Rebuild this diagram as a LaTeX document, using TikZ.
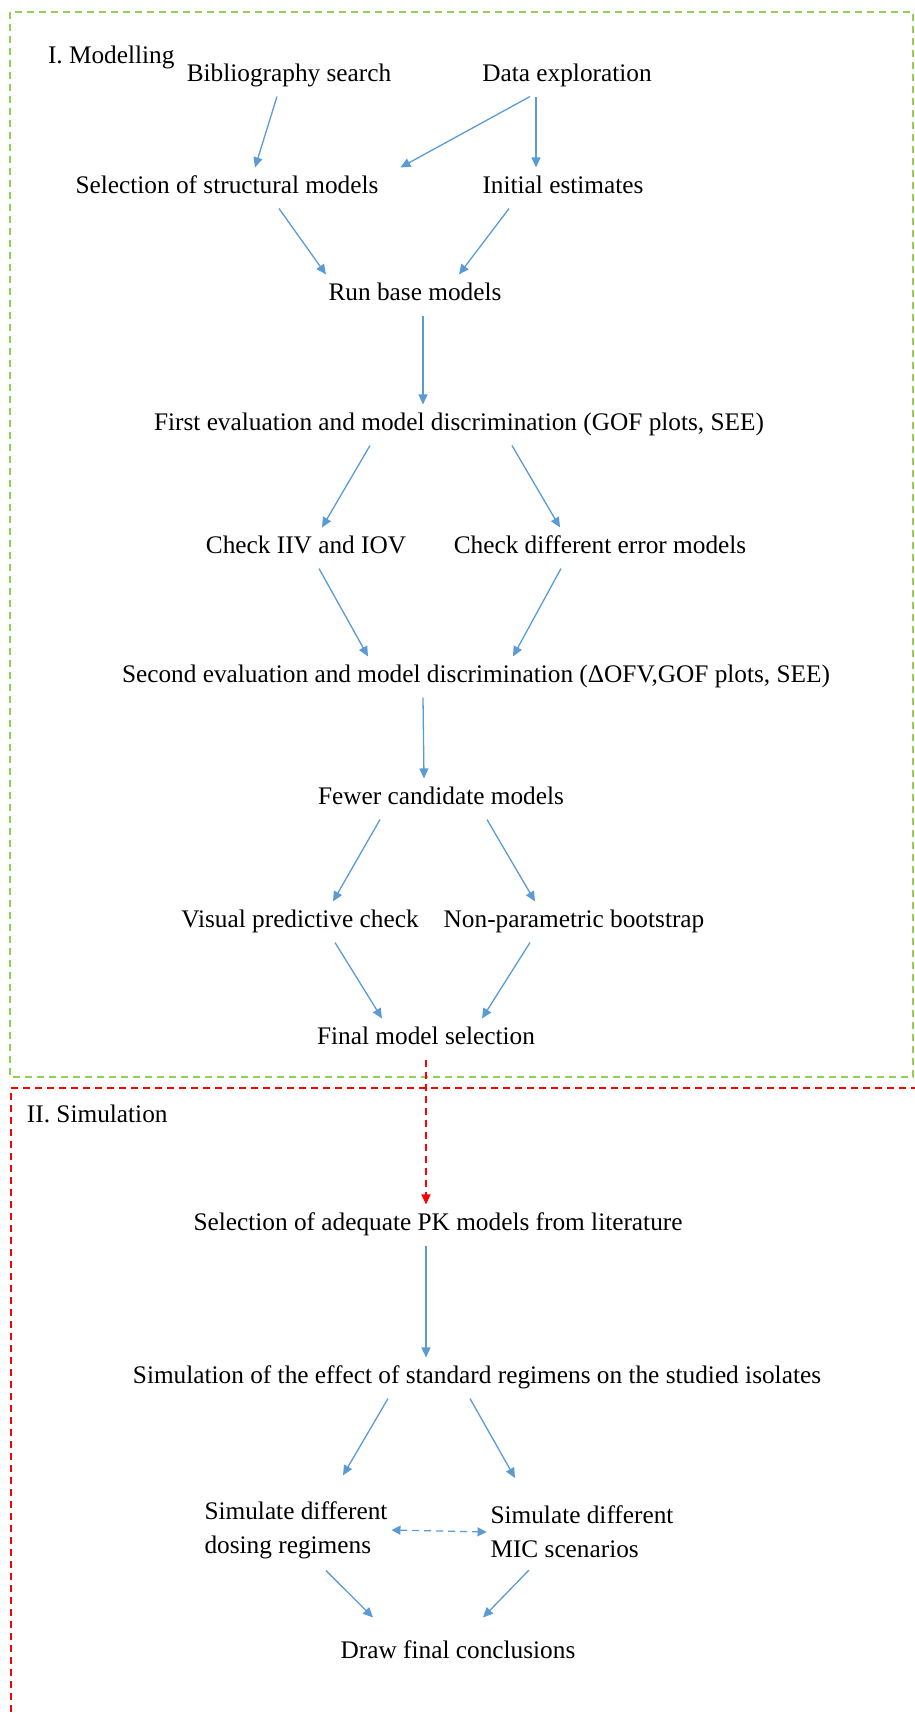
\documentclass[tikz,border=0pt]{standalone}
\usepackage{fontspec}
\setmainfont{Liberation Serif}
\usetikzlibrary{arrows.meta}
\definecolor{flowblue}{RGB}{91,155,213}
\definecolor{modgreen}{RGB}{146,208,80}
\definecolor{simred}{RGB}{255,0,0}

\begin{document}
\begin{tikzpicture}[x=1pt,y=-1pt,
    txt/.style={inner sep=0pt, outer xsep=4pt, outer ysep=9pt, font=\fontsize{25.3}{34}\selectfont},
    lbl/.style={txt, text height=17.5pt, text depth=5.6pt},
    twoline/.style={txt, align=left, outer ysep=12pt},
    flow/.style={draw=flowblue, line width=1.3pt, -{Triangle[length=10pt,width=9pt]}},
    pairflow/.style={draw=flowblue, line width=1.3pt, dash pattern=on 7pt off 5pt,
        {Triangle[length=9pt,width=9pt]}-{Triangle[length=9pt,width=9pt]}},
    simflow/.style={draw=simred, line width=1.2pt, dash pattern=on 7pt off 5pt, -{Triangle[length=10pt,width=9pt]}},
    modbox/.style={draw=modgreen, line width=1.2pt, dash pattern=on 7pt off 5pt},
    simbox/.style={draw=simred, line width=1.2pt, dash pattern=on 7pt off 5pt}]
         \useasboundingbox (0,0) rectangle (915,1715);
         % the two phases
         \draw [modbox] (10,12) rectangle (913,1077);
         \draw [simbox] (930,1088) -- (11,1088) -- (11,1730);
         \node [lbl, anchor=west] (MO) at (44,58) {I. Modelling};
         \node [lbl, anchor=west] (SI) at (23,1117) {II. Simulation};
         % modelling
         \node [lbl] (BS) at (289,76) {Bibliography search};
         \node [lbl] (DE) at (567,76) {Data exploration};
         \node [lbl] (SS) at (227,188) {Selection of structural models};
         \node [lbl] (IE) at (563,188) {Initial estimates};
         \node [lbl] (RB) at (415,295) {Run base models};
         \node [lbl] (FE) at (459,425) {First evaluation and model discrimination (GOF plots, SEE)};
         \node [lbl] (CI) at (306,548) {Check IIV and IOV};
         \node [lbl] (CE) at (600,548) {Check different error models};
         \node [lbl] (SE) at (476,677) {Second evaluation and model discrimination (ΔOFV,GOF plots, SEE)};
         \node [lbl] (FC) at (441,799) {Fewer candidate models};
         \node [lbl] (VP) at (300,922) {Visual predictive check};
         \node [lbl] (NP) at (574,922) {Non-parametric bootstrap};
         \node [lbl] (FM) at (426,1039) {Final model selection};
         % simulation
         \node [lbl] (PK) at (438,1225) {Selection of adequate PK models from literature};
         \node [lbl] (SR) at (477,1378) {Simulation of the effect of standard regimens on the studied isolates};
         \node [twoline] (SD) at (296,1530) {Simulate different\\dosing regimens};
         \node [twoline] (SM) at (582,1532) {Simulate different\\MIC scenarios};
         \node [lbl] (DC) at (458,1653) {Draw final conclusions};
         \draw [flow] ([xshift=-12pt]BS.south) -- ([xshift=28pt]SS.north);
         \draw [flow] ([xshift=-37pt]DE.south) -- ([xshift=18pt]SS.north east);
         \draw [flow] ([xshift=-31pt]DE.south) -- ([xshift=-27pt]IE.north);
         \draw [flow] ([xshift=52pt]SS.south) -- ([xshift=-89pt]RB.north);
         \draw [flow] ([xshift=-54pt]IE.south) -- ([xshift=44pt]RB.north);
         \draw [flow] ([xshift=8pt]RB.south) -- ([xshift=-36pt]FE.north);
         \draw [flow] ([xshift=-89pt]FE.south) -- ([xshift=16pt]CI.north);
         \draw [flow] ([xshift=53pt]FE.south) -- ([xshift=-40pt]CE.north);
         \draw [flow] ([xshift=13pt]CI.south) -- ([xshift=-108pt]SE.north);
         \draw [flow] ([xshift=-39pt]CE.south) -- ([xshift=37pt]SE.north);
         \draw [flow] ([xshift=-53pt]SE.south) -- ([xshift=-17pt]FC.north);
         \draw [flow] ([xshift=-61pt]FC.south) -- ([xshift=33pt]VP.north);
         \draw [flow] ([xshift=46pt]FC.south) -- ([xshift=-39pt]NP.north);
         \draw [flow] ([xshift=35pt]VP.south) -- ([xshift=-44pt]FM.north);
         \draw [flow] ([xshift=-44pt]NP.south) -- ([xshift=56pt]FM.north);
         \draw [simflow] (FM.south) -- ([xshift=-12pt]PK.north);
         \draw [flow] ([xshift=-12pt]PK.south) -- ([xshift=-51pt]SR.north);
         \draw [flow] ([xshift=-89pt]SR.south) -- ([xshift=47pt,yshift=14pt]SD.north);
         \draw [flow] ([xshift=-7pt]SR.south) -- ([xshift=-67pt,yshift=16pt]SM.north);
         \draw [pairflow] (SD.east) -- (SM.west);
         \draw [flow] ([xshift=30pt]SD.south) -- ([xshift=-85pt,yshift=15pt]DC.north);
         \draw [flow] ([xshift=-53pt]SM.south) -- ([xshift=25pt,yshift=15pt]DC.north);
\end{tikzpicture}
\end{document}
